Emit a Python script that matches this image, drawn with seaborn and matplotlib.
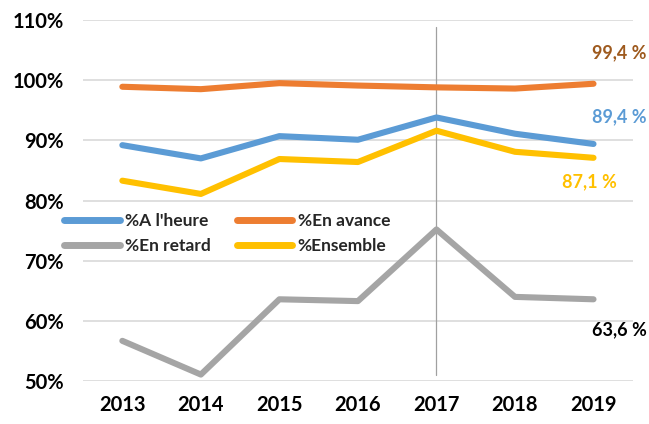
import matplotlib
matplotlib.use("Agg")
import matplotlib.pyplot as plt
import seaborn as sns
import pandas as pd
from matplotlib.ticker import FuncFormatter

years = ["2013", "2014", "2015", "2016", "2017", "2018", "2019"]
a_lheure = [89.2, 87.0, 90.7, 90.1, 93.8, 91.1, 89.4]
en_avance = [98.9, 98.5, 99.5, 99.1, 98.8, 98.6, 99.4]
en_retard = [56.7, 51.1, 63.6, 63.3, 75.2, 64.0, 63.6]
ensemble = [83.3, 81.1, 86.9, 86.4, 91.6, 88.1, 87.1]
series_names = ["%A l'heure", "%En avance", "%En retard", "%Ensemble"]
end_labels = ["89,4 %", "99,4 %", "63,6 %", "87,1 %"]

colors = ["#5B9BD5", "#ED7D31", "#A5A5A5", "#FFC000"]
label_colors = ["#5B9BD5", "#9E5A1E", "#000000", "#FFC000"]

rows = []
for name, vals in zip(series_names, [a_lheure, en_avance, en_retard, ensemble]):
    for y, v in zip(years, vals):
        rows.append({"year": y, "value": v, "series": name})
df = pd.DataFrame(rows)

sns.set_theme(style="white")
plt.rcParams["font.family"] = ["Lato", "DejaVu Sans"]
plt.rcParams["font.weight"] = "bold"

fig = plt.figure(figsize=(6.49, 4.24), dpi=100)
ax = fig.add_axes([0.128, 0.101, 0.847, 0.852])

sns.lineplot(data=df, x="year", y="value", hue="series", hue_order=series_names,
             palette=colors, linewidth=4.4, ax=ax, sort=False,
             solid_capstyle="round", solid_joinstyle="round")

ax.set_xlim(-0.5, 6.5)
ax.set_ylim(50, 110)
ax.set_yticks([50, 60, 70, 80, 90, 100, 110])
ax.yaxis.set_major_formatter(FuncFormatter(lambda v, p: f"{int(v)}%"))
ax.grid(axis="y", color="#D9D9D9", linewidth=1.2, zorder=0)
ax.set_axisbelow(True)
for s in ax.spines.values():
    s.set_visible(False)
ax.set_xlabel("")
ax.set_ylabel("")
ax.tick_params(axis="y", labelsize=14.5, pad=14, length=0, colors="#000000")
ax.tick_params(axis="x", labelsize=14.5, pad=10, length=0, colors="#000000")
for t in ax.get_xticklabels() + ax.get_yticklabels():
    t.set_fontweight("bold")

# vertical marker at 2017
ax.plot([4, 4], [51.0, 108.8], color="#A0A0A0", linewidth=0.9, zorder=1)

# end labels (right-aligned)
label_pos = {"%A l'heure": (6.68, 93.9), "%En avance": (6.68, 104.5),
             "%En retard": (6.68, 58.5), "%Ensemble": (6.30, 83.1)}
for name, lab, c in zip(series_names, end_labels, label_colors):
    x, y = label_pos[name]
    ax.text(x, y, lab, color=c, fontsize=13, fontweight="bold",
            ha="right", va="center", clip_on=False)

handles, labels = ax.get_legend_handles_labels()
hmap = dict(zip(labels, handles))
order = ["%A l'heure", "%En retard", "%En avance", "%Ensemble"]
leg = ax.legend([hmap[k] for k in order], order,
                loc="upper left", bbox_to_anchor=(0.075, 0.535),
                bbox_transform=fig.transFigure, ncol=2, frameon=False,
                fontsize=12.5, handlelength=3.2, handletextpad=0.3,
                columnspacing=1.5, labelspacing=0.55)
for t in leg.get_texts():
    t.set_fontweight("bold")
for h in leg.get_lines():
    h.set_linewidth(5)
    h.set_solid_capstyle("round")

fig.savefig("out.png", dpi=100)
